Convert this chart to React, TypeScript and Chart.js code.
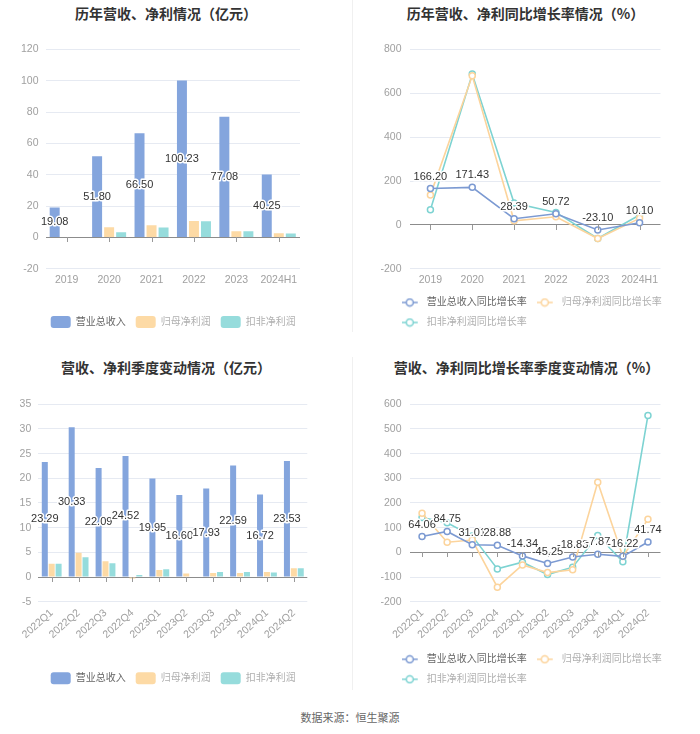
import React, { useEffect, useRef } from 'react';
import { Chart, registerables } from 'chart.js';

Chart.register(...registerables);

// ---------- data ----------
const years = ['2019', '2020', '2021', '2022', '2023', '2024H1'];
const annualRevenue = [19.08, 51.8, 66.5, 100.23, 77.08, 40.25];
const annualNetProfit = [0.3, 6.5, 7.8, 10.5, 4.0, 2.7];
const annualDeductedProfit = [-0.4, 3.3, 6.4, 10.3, 4.0, 2.5];

const annualRevenueGrowth = [166.2, 171.43, 28.39, 50.72, -23.1, 10.1];
const annualNetGrowth = [136, 680, 19, 37, -62, 30];
const annualDeductedGrowth = [69, 688, 100, 57, -62, 45];

const quarters = ['2022Q1', '2022Q2', '2022Q3', '2022Q4', '2023Q1', '2023Q2', '2023Q3', '2023Q4', '2024Q1', '2024Q2'];
const quarterRevenue = [23.29, 30.33, 22.09, 24.52, 19.95, 16.6, 17.93, 22.59, 16.72, 23.53];
const quarterNetProfit = [2.7, 4.9, 3.2, -0.3, 1.4, 0.7, 0.8, 0.8, 1.0, 1.8];
const quarterDeductedProfit = [2.7, 4.0, 2.8, 0.4, 1.6, 0.1, 1.0, 1.0, 0.9, 1.8];

const quarterRevenueGrowth = [64.06, 84.75, 31.01, 28.88, -14.34, -45.25, -18.83, -7.87, -16.22, 41.74];
const quarterNetGrowth = [158, 41, 50, -141, -51, -82, -71, 284, -17, 134];
const quarterDeductedGrowth = [141, 120, 66, -67, -40, -90, -60, 68, -38, 555];

const barSeriesNames = ['营业总收入', '归母净利润', '扣非净利润'];
const lineSeriesNames = ['营业总收入同比增长率', '归母净利润同比增长率', '扣非净利润同比增长率'];

// ---------- style ----------
const FONT = "'Liberation Sans', 'Noto Sans CJK SC', sans-serif";
const BLUE = '#84a5dd';
const ORANGE = '#fddaa5';
const TEAL = '#96dcdc';
const LINE_BLUE = '#7c9ad2';
const LINE_ORANGE = '#fcd49c';
const LINE_TEAL = '#7dd3d2';
const GRID = '#E6EAF2';
const ZERO = '#8c8c8c';
const TICK_COLOR = '#a0a0a0';
const TICK_SIZE = 10.5;
const LEGEND_COLORS = ['#666', '#b0b0b0', '#b0b0b0'];

const zeroTicksPlugin = {
  id: 'zeroTicks',
  afterDatasetsDraw(chart: any) {
    const xs = chart.scales.x;
    const ys = chart.scales.y;
    const y0 = Math.round(ys.getPixelForValue(0));
    const ctx = chart.ctx;
    ctx.save();
    ctx.strokeStyle = '#999';
    ctx.lineWidth = 1;
    chart.data.labels.forEach((_: any, i: number) => {
      const px = Math.round(xs.getPixelForValue(i)) + 0.5;
      ctx.beginPath();
      ctx.moveTo(px, y0);
      ctx.lineTo(px, y0 + 5);
      ctx.stroke();
    });
    ctx.restore();
  },
};

const valueLabelPlugin = {
  id: 'valueLabels',
  afterDatasetsDraw(chart: any, _args: any, opts: any) {
    const meta = chart.getDatasetMeta(0);
    const data = chart.data.datasets[0].data;
    const ctx = chart.ctx;
    ctx.save();
    ctx.font = `11px ${FONT}`;
    ctx.textAlign = 'center';
    ctx.textBaseline = 'middle';
    ctx.lineJoin = 'round';
    meta.data.forEach((el: any, i: number) => {
      const text = Number(data[i]).toFixed(2);
      const x = el.x;
      const y = opts.mode === 'center' ? (el.y + el.base) / 2 : el.y - 12;
      ctx.lineWidth = 3;
      ctx.strokeStyle = '#fff';
      ctx.strokeText(text, x, y);
      ctx.fillStyle = '#333';
      ctx.fillText(text, x, y);
    });
    ctx.restore();
  },
};

function lineIcon(color: string) {
  const c = document.createElement('canvas');
  c.width = 20;
  c.height = 10;
  const g = c.getContext('2d')!;
  g.strokeStyle = color;
  g.lineWidth = 1.5;
  g.beginPath();
  g.moveTo(0, 5);
  g.lineTo(16, 5);
  g.stroke();
  g.beginPath();
  g.arc(8, 5, 3.5, 0, Math.PI * 2);
  g.fillStyle = '#fff';
  g.fill();
  g.stroke();
  return c;
}

function measureWidest(labels: string[]) {
  const g = document.createElement('canvas').getContext('2d')!;
  g.font = `normal ${TICK_SIZE}px ${FONT}`;
  return Math.max(...labels.map((t) => g.measureText(t).width));
}

type Layout = {
  padding: { left: number; right: number; top: number; bottom: number };
  yW: number;
  dummyW: number;
  xH: number;
  rotate: number;
  mirror: boolean;
};

function scalesFor(lay: Layout, min: number, max: number, step: number) {
  const tickLabels: string[] = [];
  for (let v = min; v <= max; v += step) tickLabels.push(String(v));
  const widest = measureWidest(tickLabels);
  const yTicks: any = lay.mirror
    ? { stepSize: step, color: TICK_COLOR, font: { size: TICK_SIZE, family: FONT }, mirror: true, crossAlign: 'far', padding: -(8 + widest) }
    : { stepSize: step, color: TICK_COLOR, font: { size: TICK_SIZE, family: FONT }, padding: 7 };
  return {
    x: {
      grid: { display: false, drawTicks: false },
      border: { display: false },
      offset: true,
      ticks: {
        color: TICK_COLOR,
        font: { size: TICK_SIZE, family: FONT },
        padding: 5,
        autoSkip: false,
        maxRotation: lay.rotate,
        minRotation: lay.rotate,
      },
      afterFit: (s: any) => {
        s.height = lay.xH;
      },
    },
    y: {
      min,
      max,
      ticks: yTicks,
      grid: {
        drawTicks: false,
        color: (c: any) => (c.tick && c.tick.value === 0 ? ZERO : GRID),
      },
      border: { display: false },
      afterFit: (s: any) => {
        s.width = lay.yW;
      },
    },
    y2: {
      position: 'right',
      display: true,
      grid: { display: false, drawTicks: false },
      border: { display: false },
      ticks: { display: false },
      afterFit: (s: any) => {
        s.width = lay.dummyW;
      },
    },
  };
}

function barConfig(labels: string[], rev: number[], net: number[], ded: number[], min: number, max: number, step: number, lay: Layout, catPct: number, barPct: number) {
  const colors = [BLUE, ORANGE, TEAL];
  const series = [rev, net, ded];
  return {
    type: 'bar',
    data: {
      labels,
      datasets: series.map((d, i) => ({
        label: barSeriesNames[i],
        data: d,
        backgroundColor: colors[i],
        yAxisID: 'y',
        categoryPercentage: catPct,
        barPercentage: barPct,
      })),
    },
    options: {
      animation: false,
      responsive: false,
      maintainAspectRatio: false,
      layout: { padding: lay.padding },
      scales: scalesFor(lay, min, max, step),
      plugins: {
        tooltip: { enabled: false },
        valueLabels: { mode: 'center' },
        legend: {
          position: 'bottom',
          align: 'center',
          fullSize: true,
          labels: {
            boxWidth: 20,
            boxHeight: 12,
            padding: 10,
            useBorderRadius: true,
            borderRadius: 3,
            font: { size: 10, family: FONT },
            generateLabels: (chart: any) =>
              chart.data.datasets.map((ds: any, i: number) => ({
                text: ds.label,
                fillStyle: ds.backgroundColor,
                strokeStyle: ds.backgroundColor,
                lineWidth: 0,
                borderRadius: 3,
                fontColor: LEGEND_COLORS[i],
                datasetIndex: i,
                hidden: false,
              })),
          },
        },
      },
    },
    plugins: [zeroTicksPlugin, valueLabelPlugin],
  };
}

function lineConfig(labels: string[], a: number[], b: number[], c: number[], min: number, max: number, step: number, lay: Layout) {
  const colors = [LINE_BLUE, LINE_ORANGE, LINE_TEAL];
  const series = [a, b, c];
  const icons = colors.map((col) => lineIcon(col));
  return {
    type: 'line',
    data: {
      labels,
      datasets: series.map((d, i) => ({
        label: lineSeriesNames[i],
        data: d,
        borderColor: colors[i],
        backgroundColor: colors[i],
        borderWidth: 1.6,
        pointRadius: 3,
        pointBorderWidth: 1.5,
        pointBackgroundColor: '#fff',
        pointBorderColor: colors[i],
        tension: 0,
        fill: false,
        yAxisID: 'y',
      })),
    },
    options: {
      animation: false,
      responsive: false,
      maintainAspectRatio: false,
      layout: { padding: lay.padding },
      scales: scalesFor(lay, min, max, step),
      plugins: {
        tooltip: { enabled: false },
        valueLabels: { mode: 'top' },
        legend: {
          position: 'bottom',
          align: 'start',
          fullSize: true,
          labels: {
            usePointStyle: true,
            pointStyleWidth: 20,
            padding: 10,
            font: { size: 10, family: FONT },
            generateLabels: (chart: any) =>
              chart.data.datasets.map((ds: any, i: number) => ({
                text: ds.label,
                pointStyle: icons[i],
                fillStyle: colors[i],
                strokeStyle: colors[i],
                lineWidth: 0,
                fontColor: LEGEND_COLORS[i],
                datasetIndex: i,
                hidden: false,
              })),
          },
        },
      },
    },
    plugins: [zeroTicksPlugin, valueLabelPlugin],
  };
}

function ChartBox({ left, top, width, height, make }: { left: number; top: number; width: number; height: number; make: () => any }) {
  const ref = useRef<HTMLCanvasElement | null>(null);
  useEffect(() => {
    if (!ref.current) return;
    const chart = new Chart(ref.current, make());
    return () => chart.destroy();
  }, []);
  return (
    <canvas
      ref={ref}
      width={width}
      height={height}
      style={{ position: 'absolute', left, top, width, height, display: 'block' }}
    />
  );
}

const titleStyle = (left: number, width: number, top: number): React.CSSProperties => ({
  position: 'absolute',
  left,
  width,
  top,
  height: 26,
  lineHeight: '26px',
  textAlign: 'center',
  fontFamily: "'Noto Sans CJK SC', sans-serif",
  fontWeight: 'bold',
  fontSize: 14,
  color: '#333',
  whiteSpace: 'nowrap',
});

export default function App() {
  const tl: Layout = { padding: { left: 0, right: 3.6, top: 19.5, bottom: 2 }, yW: 45.5, dummyW: 46.4, xH: 37.2, rotate: 0, mirror: false };
  const tr: Layout = { padding: { left: 41.7, right: 2, top: 19.5, bottom: 2.5 }, yW: 17.8, dummyW: 37.5, xH: 18.7, rotate: 0, mirror: true };
  const bl: Layout = { padding: { left: 0, right: 3.6, top: 19.3, bottom: 0.7 }, yW: 38.25, dummyW: 39.1, xH: 60.6, rotate: 42, mirror: false };
  const br: Layout = { padding: { left: 41.7, right: 2, top: 19.3, bottom: 0.7 }, yW: 17.8, dummyW: 37.5, xH: 42.6, rotate: 42, mirror: true };

  return (
    <div style={{ position: 'absolute', left: 0, top: 0, width: 700, height: 734, background: '#fff', overflow: 'hidden' }}>
      <div style={titleStyle(0, 332, 0)}>历年营收、净利情况（亿元）</div>
      <div style={titleStyle(350, 351, 0)}>历年营收、净利同比增长率情况（%）</div>
      <div style={titleStyle(0, 332, 354)}>营收、净利季度变动情况（亿元）</div>
      <div style={titleStyle(352, 349, 354)}>营收、净利同比增长率季度变动情况（%）</div>

      <ChartBox left={0} top={30} width={350} height={310}
        make={() => barConfig(years, annualRevenue, annualNetProfit, annualDeductedProfit, -20, 120, 20, tl, 0.85, 0.83)} />
      <ChartBox left={350} top={30} width={350} height={310}
        make={() => lineConfig(years, annualRevenueGrowth, annualNetGrowth, annualDeductedGrowth, -200, 800, 200, tr)} />
      <ChartBox left={0} top={385} width={350} height={310}
        make={() => barConfig(quarters, quarterRevenue, quarterNetProfit, quarterDeductedProfit, -5, 35, 5, bl, 0.77, 0.87)} />
      <ChartBox left={350} top={385} width={350} height={310}
        make={() => lineConfig(quarters, quarterRevenueGrowth, quarterNetGrowth, quarterDeductedGrowth, -200, 600, 100, br)} />

      <div style={{ position: 'absolute', left: 352, top: 0, width: 1, height: 332, background: '#f0f0f0' }} />
      <div style={{ position: 'absolute', left: 352, top: 357, width: 1, height: 333, background: '#f0f0f0' }} />

      <div style={{ position: 'absolute', left: 0, width: 700, top: 708, height: 18, lineHeight: '18px', textAlign: 'center', fontFamily: "'Noto Sans CJK SC', sans-serif", fontSize: 11, color: '#666' }}>
        数据来源：恒生聚源
      </div>
    </div>
  );
}
